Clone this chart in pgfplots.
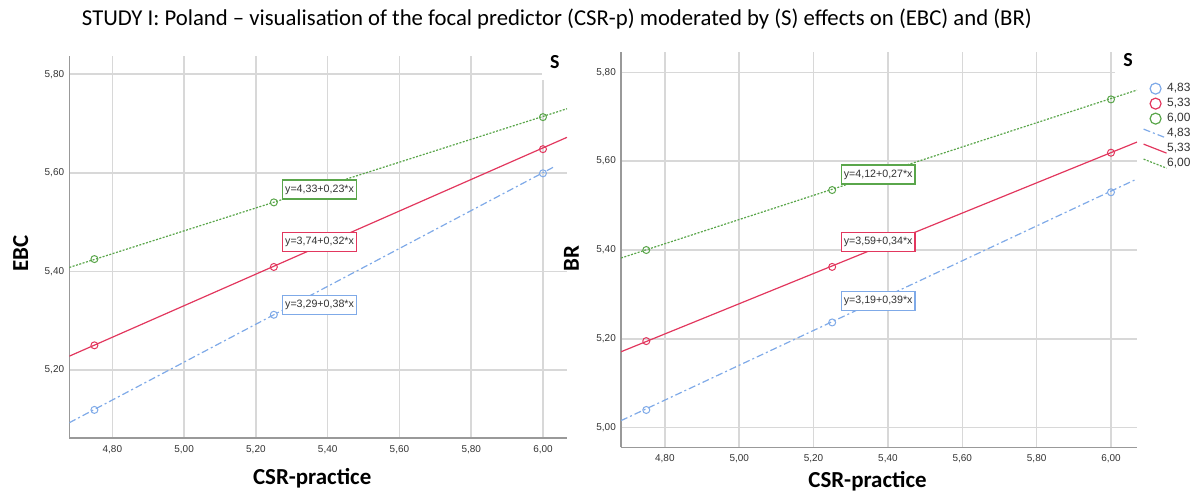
\documentclass[border=0pt]{standalone}
\usepackage{fontspec}
\setmainfont{Carlito}
\newfontfamily\arialf{Liberation Sans}
\usepackage{pgfplots}
\pgfplotsset{compat=1.18}
\definecolor{sblue}{HTML}{7FAAE8}
\definecolor{sred}{HTML}{E2375E}
\definecolor{sgreen}{HTML}{5AA64B}
\definecolor{gridc}{HTML}{D8D8D8}
\definecolor{axc}{HTML}{999999}
\definecolor{tickc}{HTML}{333333}
\tikzset{
  bluel/.style={sblue, line width=1.2bp, dash pattern=on 7bp off 3bp on 2bp off 3bp},
  redl/.style={sred, line width=1.2bp},
  greenl/.style={sgreen, line width=1.2bp, dash pattern=on 2bp off 1.5bp},
  mk/.style={only marks, mark=o, mark size=3.5bp, mark options={solid, line width=1bp}},
  eqbox/.style={fill=white, line width=1.2bp, anchor=west, font=\arialf\fontsize{10.7}{12}\selectfont, text=tickc, inner xsep=2.5bp, inner ysep=0pt, minimum height=19bp},
}
\pgfplotsset{
  legmark/.style={legend image code/.code={\draw[##1, mark size=5.5bp] plot coordinates {(12bp,0bp)};}},
  legline/.style={legend image code/.code={\draw[##1] (0bp,4.5bp) -- (23bp,-4.5bp);}},
  spss/.style={
    scale only axis,
    anchor=south west,
    axis lines*=left,
    axis line style={axc, line width=1.4bp},
    grid=major,
    major grid style={gridc, line width=1.5bp},
    major tick length=0pt,
    xtick={4.8,5.0,5.2,5.4,5.6,5.8,6.0},
    ticklabel style={font=\arialf\fontsize{10}{12}\selectfont, text=tickc},
    xticklabel style={anchor=north, inner sep=0pt, yshift=-7bp},
    yticklabel style={anchor=east, inner sep=0pt, xshift=-5bp},
    /pgf/number format/fixed,
    /pgf/number format/fixed zerofill,
    /pgf/number format/precision=2,
    /pgf/number format/use comma,
    /pgf/number format/assume math mode=true,
    xlabel style={font=\bfseries\fontsize{23}{26}\selectfont, anchor=base},
    ylabel style={font=\bfseries\fontsize{23}{26}\selectfont, anchor=center},
  },
}
\begin{document}
\begin{tikzpicture}
\path[use as bounding box] (0,0) rectangle (1200bp,495bp);
\node[font=\fontsize{22.8}{26}\selectfont, anchor=base] at (557bp,469bp) {STUDY I: Poland – visualisation of the focal predictor (CSR-p) moderated by (S) effects on (EBC) and (BR)};

% ---------------- left panel: EBC ----------------
\begin{axis}[spss,
  at={(69.3bp,57bp)}, width=497.7bp, height=382bp,
  xmin=4.680, xmax=6.067, ymin=5.062, ymax=5.837,
  ytick={5.2,5.4,5.6,5.8},
  xlabel={CSR-practice}, ylabel={EBC},
  xlabel style={at={(axis description cs:0.488,-0.123)}},
  ylabel style={at={(axis description cs:-0.0977,0.482)}},
]
\addplot[bluel, forget plot] coordinates {(4.680,5.093) (6.028,5.611)};
\addplot[redl, forget plot] coordinates {(4.680,5.228) (6.067,5.672)};
\addplot[greenl, forget plot] coordinates {(4.680,5.408) (6.067,5.730)};
\addplot[mk, sblue, forget plot] coordinates {(4.75,5.119) (5.25,5.312) (6.00,5.599)};
\addplot[mk, sred, forget plot] coordinates {(4.75,5.250) (5.25,5.409) (6.00,5.648)};
\addplot[mk, sgreen, forget plot] coordinates {(4.75,5.425) (5.25,5.540) (6.00,5.713)};
\node[eqbox, draw=sgreen] at (axis cs:5.273,5.566) {y=4,33+0,23*x};
\node[eqbox, draw=sred] at (axis cs:5.273,5.460) {y=3,74+0,32*x};
\node[eqbox, draw=sblue] at (axis cs:5.273,5.332) {y=3,29+0,38*x};
\fill[white] (axis cs:5.997,5.788) rectangle (axis cs:6.067,5.837);
\node[font=\bfseries\fontsize{20}{22}\selectfont] at (axis cs:6.033,5.825) {S};
\end{axis}

% ---------------- right panel: BR ----------------
\begin{axis}[spss,
  at={(621bp,47.7bp)}, width=516bp, height=395bp,
  xmin=4.682, xmax=6.070, ymin=4.956, ymax=5.845,
  ytick={5.0,5.2,5.4,5.6,5.8},
  xlabel={CSR-practice}, ylabel={BR},
  xlabel style={at={(axis description cs:0.4777,-0.103)}},
  ylabel style={at={(axis description cs:-0.0959,0.478)}},
  legend cell align=left,
  legend style={at={(axis description cs:1.0116,0.927)}, anchor=north west,
    draw=none, fill=none, inner sep=0pt, outer sep=0pt, row sep=0pt,
    font=\arialf\fontsize{12}{14}\selectfont, text=tickc,
    nodes={inner xsep=0pt, inner ysep=1.5bp, text height=9bp, text depth=3bp},
    /tikz/every even column/.append style={column sep=1bp}},
]
\addplot[bluel, forget plot] coordinates {(4.682,5.016) (6.070,5.560)};
\addplot[redl, forget plot] coordinates {(4.682,5.171) (6.070,5.643)};
\addplot[greenl, forget plot] coordinates {(4.682,5.382) (6.070,5.760)};
\addplot[mk, sblue, forget plot] coordinates {(4.75,5.040) (5.25,5.237) (6.00,5.530)};
\addplot[mk, sred, forget plot] coordinates {(4.75,5.195) (5.25,5.362) (6.00,5.619)};
\addplot[mk, sgreen, forget plot] coordinates {(4.75,5.400) (5.25,5.535) (6.00,5.739)};
\node[eqbox, draw=sgreen] at (axis cs:5.273,5.570) {y=4,12+0,27*x};
\node[eqbox, draw=sred] at (axis cs:5.273,5.418) {y=3,59+0,34*x};
\node[eqbox, draw=sblue] at (axis cs:5.273,5.285) {y=3,19+0,39*x};
\fill[white] (axis cs:6.011,5.775) rectangle (axis cs:6.070,5.845);
\node[font=\bfseries\fontsize{20}{22}\selectfont] at (axis cs:6.046,5.828) {S};

\addlegendimage{only marks, mark=o, sblue, mark options={solid, line width=1.2bp}, legmark}
\addlegendentry{4,83}
\addlegendimage{only marks, mark=o, sred, mark options={solid, line width=1.2bp}, legmark}
\addlegendentry{5,33}
\addlegendimage{only marks, mark=o, sgreen, mark options={solid, line width=1.2bp}, legmark}
\addlegendentry{6,00}
\addlegendimage{bluel, legline}
\addlegendentry{4,83}
\addlegendimage{redl, legline}
\addlegendentry{5,33}
\addlegendimage{greenl, legline}
\addlegendentry{6,00}
\end{axis}
\end{tikzpicture}
\end{document}
